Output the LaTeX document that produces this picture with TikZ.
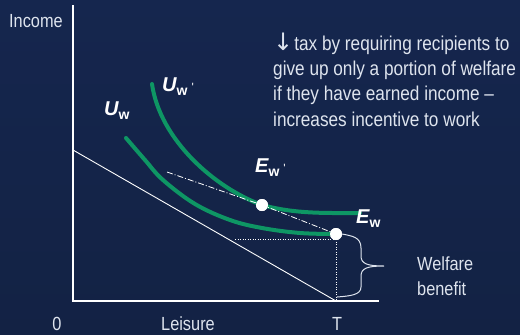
\documentclass[tikz,border=0pt]{standalone}
\usepackage{fontspec}
\setmainfont{Liberation Sans}[FakeStretch=0.86]
\newfontfamily\lab{Liberation Sans}
\newfontfamily\arr{DejaVu Sans}
\definecolor{bgtop}{RGB}{21,38,78}
\definecolor{bgmid}{RGB}{31,58,112}
\definecolor{bgbot}{RGB}{19,34,68}
\definecolor{curvegreen}{RGB}{14,150,100}
\definecolor{txt}{RGB}{222,228,238}
\tikzset{
  axis/.style={white, line width=1.5pt},
  budget/.style={white, line width=0.9pt},
  icurve/.style={curvegreen, line width=4pt, line cap=round},
  dashdotline/.style={white, line width=0.8pt, dash pattern=on 6pt off 2pt on 1pt off 2pt},
  dotline/.style={white, line width=0.7pt, dash pattern=on 1pt off 1.5pt},
  bracepath/.style={txt, line width=1pt},
  txtlabel/.style={txt, inner sep=0pt, anchor=base west, font=\fontsize{19}{22}\selectfont},
  anntext/.style={txt, inner sep=0pt, anchor=base west, font=\fontsize{20}{25}\selectfont},
  curvelabel/.style={white, inner sep=0pt, anchor=base west},
  eqdot/.style={circle, fill=white, draw=none, minimum size=12pt, inner sep=0pt}
}
\newcommand{\Lbl}[2]{{\lab\bfseries\itshape\fontsize{20}{20}\selectfont #1}{\lab\bfseries\fontsize{14}{14}\selectfont\raisebox{-4pt}{#2}}}
\newcommand{\Prm}{{\lab\fontsize{12}{12}\selectfont\hspace{4pt}'}}
\begin{document}
\begin{tikzpicture}[x=1pt,y=-1pt]
\useasboundingbox (0,0) rectangle (520,335);
\shade[top color=bgtop, middle color=bgmid, bottom color=bgbot] (0,0) rectangle (520,335);

% coordinates
\coordinate (ytop) at (73,5);
\coordinate (O) at (73,301);
\coordinate (xend) at (379,301);
\coordinate (bstart) at (73,150);
\coordinate (T) at (336,301);
\coordinate (ddstart) at (167,172);
\coordinate (hdstart) at (235,239);
\coordinate (hdend) at (336,239);
\coordinate (uwpstart) at (152,84);
\coordinate (uwpend) at (360,213);

% axes
\draw[axis] (ytop) -- (O) -- (xend);
% budget line
\draw[budget] (bstart) -- (T);

% equilibrium points
\node[eqdot] (Ewp) at (262,205) {};
\node[eqdot] (Ew) at (336,234) {};

% indifference curves
\draw[icurve] plot[smooth, tension=0.6] coordinates {(126,138) (145,160) (163,180) (195,204) (230,220) (262,228) (300,233) (336,234)};
\draw[icurve] (uwpstart) .. controls (160,140) and (215,188) .. (Ewp.center)
  .. controls (295,214) and (325,213) .. (uwpend);

% redraw points on top
\node[eqdot] at (Ewp) {};
\node[eqdot] at (Ew) {};

% dash-dot line
\draw[dashdotline] (ddstart) -- (Ewp.center) -- (Ew.center);
% dotted lines
\draw[dotline] (hdstart) -- (hdend);
\draw[dotline] (Ew.center) -- (T);

% brace
\draw[bracepath] (Ew.east) .. controls (352,236) and (361,237) .. (361,248)
  -- (361,256) .. controls (361,264) and (368,266) .. (384,266)
  .. controls (368,266) and (361,268) .. (361,276)
  -- (361,287) .. controls (361,295) and (350,296) .. (337,297);

% axis labels
\node[txtlabel] (inc) at (9,27) {Income};
\node[txtlabel, anchor=base] (zero) at (57,330) {0};
\node[txtlabel] (leis) at (161,330) {Leisure};
\node[txtlabel, anchor=base] (tlab) at (337,330) {T};
\node[txtlabel] (wel1) at (417,270) {Welfare};
\node[txtlabel] (wel2) at (417,295) {benefit};

% annotation
\node[anntext] (a1) at (273,50) {{\arr\fontsize{24}{25}\selectfont ↓}\hspace{1pt}tax by requiring recipients to};
\node[anntext] (a2) at (273,75.3) {give up only a portion of welfare};
\node[anntext] (a3) at (273,100.6) {if they have earned income –};
\node[anntext] (a4) at (273,126) {increases incentive to work};

% curve labels
\node[curvelabel] (uw) at (104,115) {\Lbl{U}{w}};
\node[curvelabel] (uwp) at (162,91) {\Lbl{U}{w}\Prm};
\node[curvelabel] (ewpl) at (255,172) {\Lbl{E}{w}\Prm};
\node[curvelabel] (ewl) at (356,223) {\Lbl{E}{w}};
\end{tikzpicture}
\end{document}
